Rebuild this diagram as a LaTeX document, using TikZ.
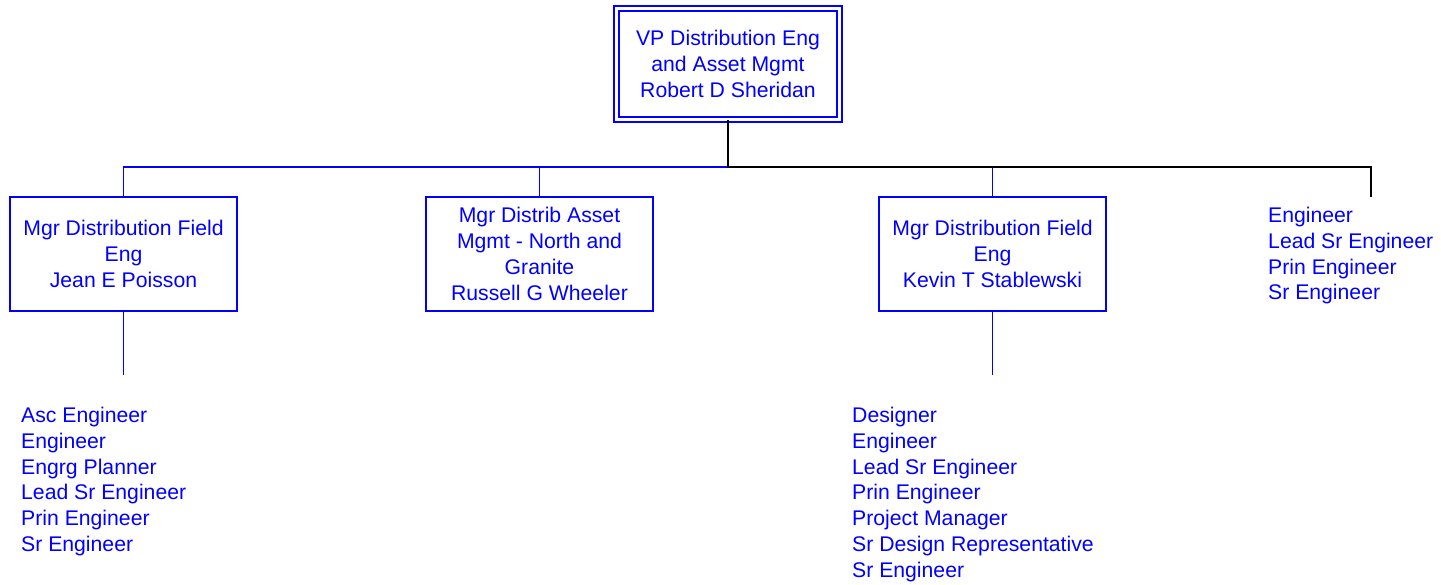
\documentclass[tikz,border=0pt]{standalone}
\usepackage{fontspec}
\setmainfont{Liberation Sans}
\newcommand\orgfs{\fontsize{21.2}{25.8}\selectfont}
\begin{document}
\begin{tikzpicture}[x=1pt,y=-1pt,
  box/.style={draw=blue,line width=1.8pt,rectangle,minimum width=227pt,minimum height=114pt,inner sep=0pt,align=center,text=blue,font=\orgfs},
  topbox/.style={box,double=white,double distance=3.2pt,minimum width=223.5pt,minimum height=110.5pt},
  list/.style={anchor=north west,inner sep=0pt,align=left,text=blue,font=\orgfs},
  bline/.style={draw=blue,line width=1.9pt},
  kline/.style={draw=black,line width=1.9pt}]
\path[use as bounding box,fill=white] (0,0) rectangle (1441,585);
\node[topbox] (vp) at (728,64) {VP Distribution Eng\\and Asset Mgmt\\Robert D Sheridan};
\node[box] (m1) at (123.5,254) {Mgr Distribution Field\\Eng\\Jean E Poisson};
\node[box] (m2) at (539.5,254) {Mgr Distrib Asset\\Mgmt - North and\\Granite\\Russell G Wheeler};
\node[box] (m3) at (992.5,254) {Mgr Distribution Field\\Eng\\Kevin T Stablewski};
\coordinate (j) at (728,167);
\coordinate (r) at (1371,197);
\coordinate (d1) at (123.5,375);
\coordinate (d3) at (992.5,375);
\node[list] (l1) at (21,407) {Asc Engineer\\Engineer\\Engrg Planner\\Lead Sr Engineer\\Prin Engineer\\Sr Engineer};
\node[list] (l3) at (852,407) {Designer\\Engineer\\Lead Sr Engineer\\Prin Engineer\\Project Manager\\Sr Design Representative\\Sr Engineer};
\node[list] (l4) at (1268,207) {Engineer\\Lead Sr Engineer\\Prin Engineer\\Sr Engineer};
\draw[bline] (j) -| (m1.north);
\draw[bline] (j) -| (m2.north);
\draw[bline] (j) -| (m3.north);
\draw[bline] (m1.south) -- (d1);
\draw[bline] (m3.south) -- (d3);
\draw[kline] (vp.south) -- (j) -| (r);
\end{tikzpicture}
\end{document}
